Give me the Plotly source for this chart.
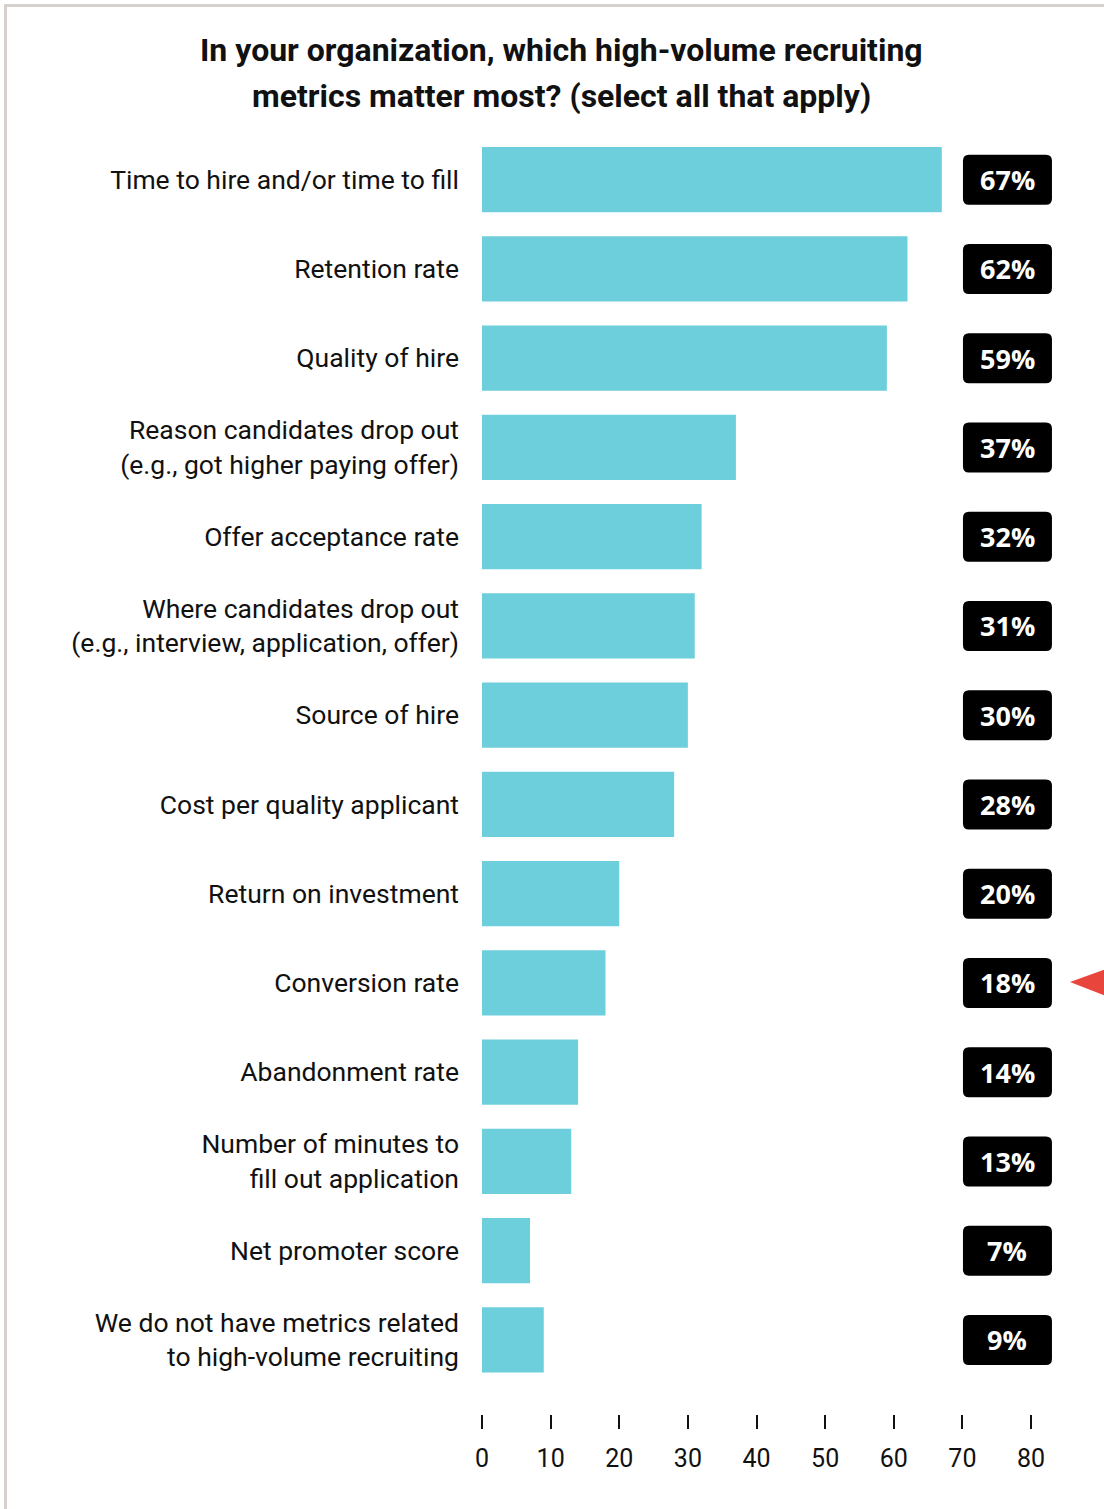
import plotly.graph_objects as go

# Survey results: share of respondents selecting each metric (%)
categories = [
    "Time to hire and/or time to fill",
    "Retention rate",
    "Quality of hire",
    "Reason candidates drop out<br>(e.g., got higher paying offer)",
    "Offer acceptance rate",
    "Where candidates drop out<br>(e.g., interview, application, offer)",
    "Source of hire",
    "Cost per quality applicant",
    "Return on investment",
    "Conversion rate",
    "Abandonment rate",
    "Number of minutes to<br>fill out application",
    "Net promoter score",
    "We do not have metrics related<br>to high-volume recruiting",
]
values = [67, 62, 59, 37, 32, 31, 30, 28, 20, 18, 14, 13, 7, 9]
x_ticks = [0, 10, 20, 30, 40, 50, 60, 70, 80]
highlight_label = "Conversion rate"

title_lines = [
    "In your organization, which high-volume recruiting",
    "metrics matter most? (select all that apply)",
]

# Page geometry (pixels)
W, H = 1104, 1509
M_L, M_R, M_T, M_B = 482, 38, 135, 95
PLOT_W = W - M_L - M_R
PLOT_H = H - M_T - M_B
X_MAX = PLOT_W / 6.8625          # 10 units per ~68.6 px
Y_RANGE = [13.83, -0.5]          # rows top to bottom
BAR_COLOR = "#6ecfdc"
BOX_X = 76.57                    # centre of value badges (data units)


def px_x(px):
    return (px - M_L) / PLOT_W


def px_y(py):
    return (H - M_B - py) / PLOT_H


rows = list(range(len(categories)))

fig = go.Figure()
fig.add_trace(go.Bar(
    x=values,
    y=rows,
    orientation="h",
    width=0.73,
    marker=dict(color=BAR_COLOR, line=dict(width=0)),
    hoverinfo="skip",
))

shapes = []
annotations = []

# Rounded black value badges
bw, bh, r = 44.5, 25, 6
badge_path = (
    f"M {-bw + r},{-bh} L {bw - r},{-bh} Q {bw},{-bh} {bw},{-bh + r} "
    f"L {bw},{bh - r} Q {bw},{bh} {bw - r},{bh} L {-bw + r},{bh} "
    f"Q {-bw},{bh} {-bw},{bh - r} L {-bw},{-bh + r} Q {-bw},{-bh} {-bw + r},{-bh} Z"
)
for row, v in zip(rows, values):
    shapes.append(dict(
        type="path", xref="x", yref="y",
        xsizemode="pixel", ysizemode="pixel",
        xanchor=BOX_X, yanchor=row,
        path=badge_path,
        fillcolor="#000000", line=dict(width=0), layer="above",
    ))
    annotations.append(dict(
        x=BOX_X, y=row, xref="x", yref="y",
        text=f"<b>{v}%</b>", showarrow=False,
        font=dict(family="Open Sans", size=27, color="#ffffff"),
        xanchor="center", yanchor="middle",
    ))

# Red pointer beside the highlighted row
hi_row = categories.index(highlight_label)
hy = M_T + (hi_row - Y_RANGE[1]) * PLOT_H / (Y_RANGE[0] - Y_RANGE[1])
shapes.append(dict(
    type="path", xref="paper", yref="paper",
    path=(f"M {px_x(1070)},{px_y(hy - 1)} L {px_x(1106)},{px_y(hy - 14)} "
          f"L {px_x(1106)},{px_y(hy + 13)} Z"),
    fillcolor="#e8453c", line=dict(width=0), layer="above",
))

# Frame lines on the left and top
shapes.append(dict(
    type="path", xref="paper", yref="paper",
    path=(f"M {px_x(5.5)},{px_y(H + 5)} L {px_x(5.5)},{px_y(5.5)} "
          f"L {px_x(W + 5)},{px_y(5.5)}"),
    line=dict(color="#d6d0ce", width=3), layer="above",
))

# Two-line title
for text, cy in zip(title_lines, [50, 96]):
    annotations.append(dict(
        x=px_x(561), y=px_y(cy), xref="paper", yref="paper",
        text=f"<b>{text}</b>", showarrow=False,
        font=dict(family="Roboto", size=32, color="#111111"),
        xanchor="center", yanchor="middle",
    ))

fig.update_layout(
    width=W, height=H,
    margin=dict(l=M_L, r=M_R, t=M_T, b=M_B, pad=0),
    paper_bgcolor="#ffffff", plot_bgcolor="#ffffff",
    showlegend=False,
    font=dict(family="Roboto", color="#111111"),
    shapes=shapes,
    annotations=annotations,
    xaxis=dict(
        range=[0, X_MAX],
        tickvals=x_ticks,
        ticktext=[str(t) for t in x_ticks],
        ticks="outside", ticklen=14, tickwidth=2, tickcolor="#111111",
        tickfont=dict(family="Liberation Sans Narrow, Roboto", size=25, color="#111111"),
        showgrid=False, zeroline=False, showline=False,
        ticklabelstandoff=8,
    ),
    yaxis=dict(
        range=Y_RANGE,
        tickvals=rows,
        ticktext=categories,
        ticks="",
        tickfont=dict(family="Roboto", size=26.5, color="#111111"),
        showgrid=False, zeroline=False, showline=False,
        ticklabelstandoff=22,
    ),
)

fig.write_html("out.html")
